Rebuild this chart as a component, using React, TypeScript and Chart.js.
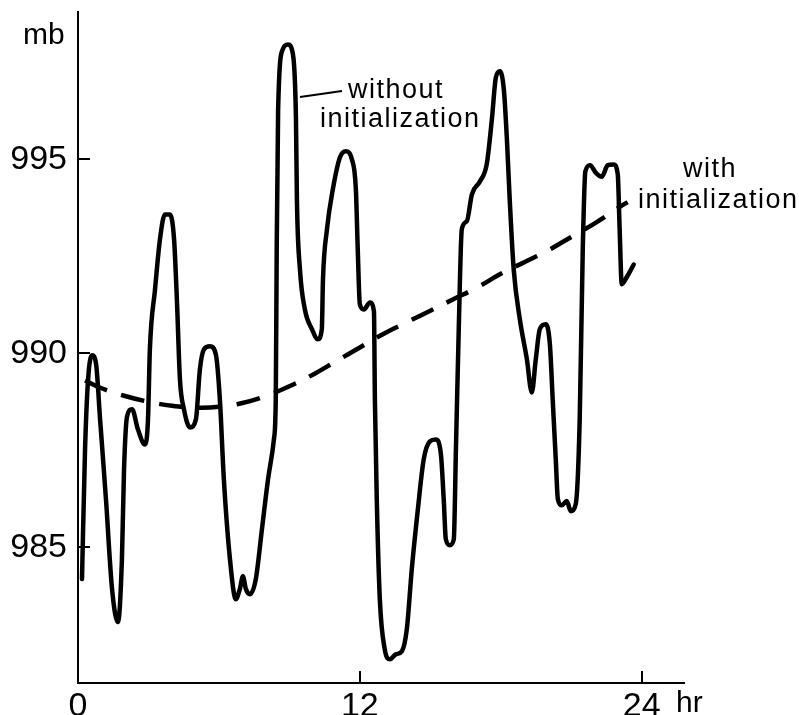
import React, { useEffect, useRef } from "react";
import { Chart, registerables } from "chart.js";

Chart.register(...registerables);

// Solid curve: surface pressure without initialization
const solidHours = [
  0.17, 0.3, 0.43, 0.6, 0.77, 0.94, 1.19, 1.45, 1.7, 1.87, 1.96, 2.09, 2.3, 2.55, 2.85, 2.98, 3.06, 3.28, 3.49, 3.7,
  3.91, 4.09, 4.21, 4.34, 4.51, 4.77, 5.02, 5.19, 5.36, 5.62, 5.87, 6.04, 6.21, 6.47, 6.72, 6.89, 7.02, 7.15, 7.32,
  7.57, 7.83, 8.09, 8.34, 8.42, 8.46, 8.52, 8.72, 8.94, 9.15, 9.28, 9.32, 9.45, 9.66, 9.96, 10.21, 10.38, 10.43,
  10.6, 10.85, 11.15, 11.4, 11.66, 11.83, 11.91, 12.0, 12.17, 12.43, 12.6, 12.64, 12.72, 12.85, 13.06, 13.28,
  13.53, 13.79, 14.0, 14.21, 14.47, 14.72, 14.98, 15.23, 15.45, 15.57, 15.66, 15.83, 16.0, 16.09, 16.21, 16.34,
  16.55, 16.77, 17.11, 17.4, 17.62, 17.79, 17.96, 18.13, 18.26, 18.38, 18.55, 18.81, 19.11, 19.32, 19.49, 19.66,
  19.91, 20.09, 20.21, 20.34, 20.43, 20.6, 20.81, 20.98, 21.19, 21.36, 21.49, 21.6, 21.8, 22.05, 22.3, 22.55,
  22.8, 22.98, 23.06, 23.15, 23.36, 23.66,
];
const solidMb = [
  984.18, 987.53, 989.33, 989.95, 989.72, 988.3, 986.24, 983.92, 983.07, 984.69, 987.01, 988.38, 988.56, 988.04,
  987.65, 988.3, 990.1, 991.65, 992.94, 993.58, 993.58, 992.94, 991.39, 989.33, 988.56, 988.09, 988.3, 989.59,
  990.1, 990.18, 989.97, 988.81, 986.75, 984.69, 983.66, 983.92, 984.25, 983.92, 983.79, 984.18, 985.46, 986.75,
  987.78, 988.81, 992.68, 996.29, 997.84, 997.96, 997.71, 996.03, 993.97, 992.16, 991.13, 990.62, 990.36, 990.62,
  991.91, 993.2, 994.23, 995.05, 995.21, 995.0, 994.23, 992.68, 991.26, 991.13, 991.31, 991.08, 988.81, 986.24,
  983.66, 982.37, 982.11, 982.24, 982.32, 982.89, 984.43, 985.98, 987.27, 987.73, 987.78, 987.4, 986.24, 985.21,
  985.05, 985.21, 987.53, 990.62, 993.2, 993.4, 994.1, 994.43, 994.87, 996.03, 997.11, 997.27, 996.8, 995.52,
  993.97, 992.16, 990.88, 989.85, 988.99, 989.85, 990.62, 990.75, 990.23, 988.81, 987.27, 986.24, 986.08, 986.19,
  985.93, 986.11, 988.3, 992.68, 994.69, 994.85, 994.65, 994.55, 994.85, 994.87, 994.61, 993.2, 991.78, 991.96,
  992.29,
];

// Dashed curve: surface pressure with initialization
const dashedHours = [0.3, 1, 2, 3, 4, 5, 6, 7, 8, 9, 10, 11, 12, 13, 14, 15, 16, 17, 18, 19, 20, 21, 22, 23, 23.4];
const dashedMb = [
  989.3, 989.1, 988.9, 988.75, 988.65, 988.6, 988.62, 988.72, 988.9, 989.15, 989.45, 989.8, 990.15, 990.5, 990.8,
  991.1, 991.4, 991.7, 992.05, 992.35, 992.65, 993.0, 993.35, 993.75, 993.9,
];

const xTicks = [0, 12, 24];
const yTicks = [985, 990, 995];

const FONT = "'Liberation Sans', Arial, Helvetica, sans-serif";

const decorPlugin = {
  id: "decor",
  afterDraw(chart: any) {
    const ctx = chart.ctx as CanvasRenderingContext2D;
    const xs = chart.scales.x;
    const ys = chart.scales.y;
    const area = chart.chartArea;
    ctx.save();
    ctx.strokeStyle = "#000";
    ctx.lineWidth = 2;
    // inward tick marks
    for (const v of yTicks) {
      const py = Math.round(ys.getPixelForValue(v));
      ctx.beginPath();
      ctx.moveTo(area.left, py);
      ctx.lineTo(area.left + 12, py);
      ctx.stroke();
    }
    for (const v of xTicks) {
      const px = Math.round(xs.getPixelForValue(v));
      ctx.beginPath();
      ctx.moveTo(px, area.bottom);
      ctx.lineTo(px, area.bottom - 12);
      ctx.stroke();
    }
    // leader line for "without initialization"
    ctx.lineWidth = 2;
    ctx.beginPath();
    ctx.moveTo(300, 97);
    ctx.lineTo(342, 91);
    ctx.stroke();

    ctx.fillStyle = "#000";
    ctx.textBaseline = "alphabetic";
    ctx.textAlign = "left";
    (ctx as any).letterSpacing = "0px";
    ctx.font = `30px ${FONT}`;
    ctx.fillText("mb", 23, 44);
    ctx.fillText("hr", 676, 712);

    (ctx as any).letterSpacing = "1.5px";
    ctx.font = `27px ${FONT}`;
    ctx.fillText("without", 348, 98);
    ctx.fillText("initialization", 320, 127);
    ctx.fillText("with", 683, 177);
    ctx.fillText("initialization", 638, 208);
    ctx.restore();
  },
};

export default function App() {
  const ref = useRef<HTMLCanvasElement | null>(null);
  useEffect(() => {
    if (!ref.current) return;
    const solid = solidHours.map((h, i) => ({ x: h, y: solidMb[i] }));
    const dashed = dashedHours.map((h, i) => ({ x: h, y: dashedMb[i] }));
    const chart = new Chart(ref.current, {
      type: "line",
      data: {
        datasets: [
          {
            label: "without initialization",
            data: solid,
            borderColor: "#000",
            borderWidth: 4.5,
            pointRadius: 0,
            cubicInterpolationMode: "monotone",
            borderJoinStyle: "round",
            borderCapStyle: "round",
            fill: false,
          },
          {
            label: "with initialization",
            data: dashed,
            borderColor: "#000",
            borderWidth: 4.5,
            pointRadius: 0,
            tension: 0.4,
            borderDash: [24, 15],
            borderCapStyle: "butt",
            fill: false,
          },
        ],
      },
      options: {
        responsive: false,
        maintainAspectRatio: false,
        devicePixelRatio: 1,
        animation: false,
        layout: { padding: { top: 12, right: 115, left: 0, bottom: 0 } },
        plugins: { legend: { display: false }, tooltip: { enabled: false } },
        scales: {
          x: {
            type: "linear",
            min: 0,
            max: 25.8,
            grid: { display: false, drawTicks: false },
            border: { display: true, color: "#000", width: 2 },
            ticks: {
              color: "#000",
              font: { family: FONT, size: 34 },
              padding: 3,
              autoSkip: false,
              maxRotation: 0,
            },
            afterBuildTicks: (s: any) => {
              s.ticks = xTicks.map((v) => ({ value: v }));
            },
            afterFit: (s: any) => {
              s.height = 32;
              s.paddingLeft = 0;
              s.paddingRight = 0;
              s.paddingTop = 0;
              s.paddingBottom = 0;
            },
          },
          y: {
            type: "linear",
            min: 981.5,
            max: 998.8,
            grid: { display: false, drawTicks: false },
            border: { display: true, color: "#000", width: 2 },
            ticks: {
              color: "#000",
              font: { family: FONT, size: 34 },
              padding: 11,
              autoSkip: false,
            },
            afterBuildTicks: (s: any) => {
              s.ticks = yTicks.map((v) => ({ value: v }));
            },
            afterFit: (s: any) => {
              s.width = 78;
              s.paddingLeft = 0;
              s.paddingRight = 0;
              s.paddingTop = 0;
              s.paddingBottom = 0;
            },
          },
        },
      },
      plugins: [decorPlugin],
    });
    return () => chart.destroy();
  }, []);
  return (
    <div style={{ position: "absolute", left: 0, top: 0, width: 799, height: 715, background: "#fff" }}>
      <canvas ref={ref} width={799} height={715} style={{ width: 799, height: 715, display: "block" }} />
    </div>
  );
}
